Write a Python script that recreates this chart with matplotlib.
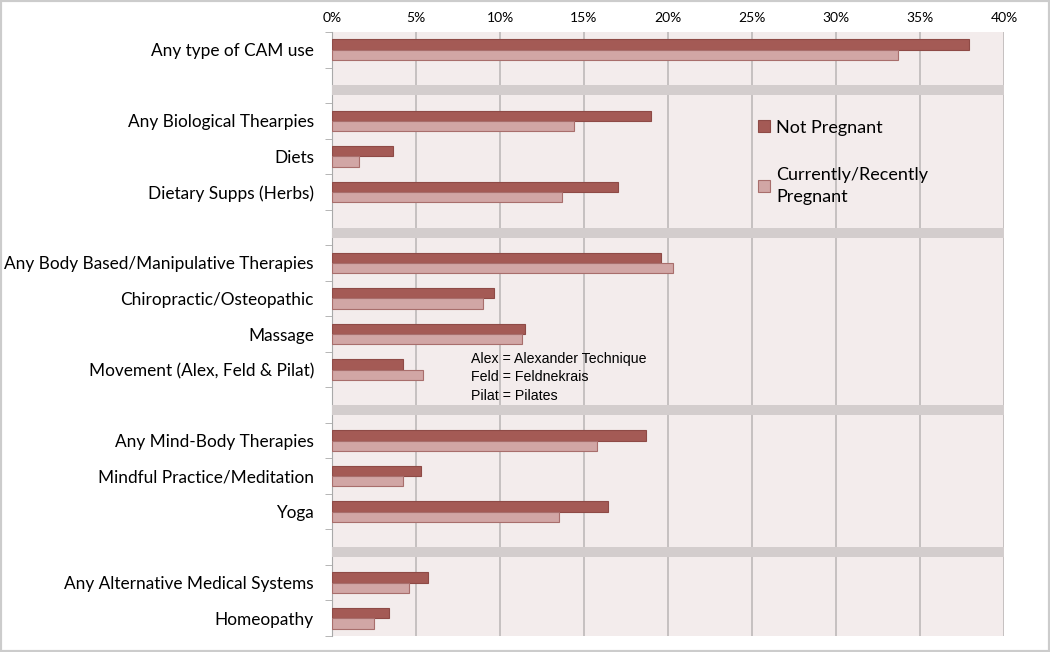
import numpy as np
import matplotlib
matplotlib.use("Agg")
import matplotlib.pyplot as plt
from matplotlib.patches import Rectangle

# rows from top to bottom, None = separator row
categories = ["Any type of CAM use", None,
              "Any Biological Thearpies", "Diets", "Dietary Supps (Herbs)", None,
              "Any Body Based/Manipulative Therapies", "Chiropractic/Osteopathic",
              "Massage", "Movement (Alex, Feld & Pilat)", None,
              "Any Mind-Body Therapies", "Mindful Practice/Meditation", "Yoga", None,
              "Any Alternative Medical Systems", "Homeopathy"]
not_pregnant = [37.9, None, 19.0, 3.65, 17.0, None, 19.6, 9.65, 11.5, 4.2, None,
                18.7, 5.3, 16.4, None, 5.7, 3.4]
pregnant = [33.7, None, 14.4, 1.6, 13.7, None, 20.3, 9.0, 11.3, 5.4, None,
            15.75, 4.2, 13.5, None, 4.6, 2.5]
xticks = [0, 5, 10, 15, 20, 25, 30, 35, 40]
note = "Alex = Alexander Technique\nFeld = Feldnekrais\nPilat = Pilates"

c_np = "#a45a55"
c_cp = "#d1a6a5"
c_band = "#d3cdcd"
bg = "#f3ecec"

fig = plt.figure(figsize=(10.5, 6.52), dpi=100)
ax = fig.add_axes([332/1050, 1-636/652, 672/1050, 604/652])
ax.set_facecolor(bg)

n = len(categories)
yc = np.arange(n) + 0.5
h = 0.29
idx = [i for i in range(n) if categories[i] is not None]
gaps = [i for i in range(n) if categories[i] is None]

ax.barh(yc[idx] - h/2, [not_pregnant[i] for i in idx], height=h, color=c_np,
        edgecolor="#8e4a46", linewidth=0.8, label="Not Pregnant", zorder=3)
ax.barh(yc[idx] + h/2, [pregnant[i] for i in idx], height=h, color=c_cp,
        edgecolor="#a86e6c", linewidth=0.8, label="Currently/Recently\nPregnant", zorder=3)
ax.barh(yc[gaps] + h/2, [40]*len(gaps), height=0.28, color=c_band, linewidth=0, zorder=3)

ax.set_xlim(0, 40)
ax.set_ylim(n, 0)
ax.xaxis.tick_top()
ax.set_xticks(xticks)
ax.set_xticklabels(["%d%%" % t for t in xticks], fontsize=10, family="Lato")
ax.tick_params(axis="x", length=0, pad=6)
ax.grid(axis="x", color="#b9b4b4", linewidth=1.1, zorder=1)

ax.set_yticks(yc[idx])
ax.set_yticklabels([categories[i] for i in idx], fontsize=12.4, family="Lato")
ax.set_yticks(np.arange(n + 1), minor=True)
ax.tick_params(axis="y", which="major", length=0, pad=13)
ax.tick_params(axis="y", which="minor", length=5, color="#a9a9a9", direction="out")

for s in ["top", "right", "bottom"]:
    ax.spines[s].set_visible(False)
ax.spines["left"].set_color("#a9a9a9")

ax.text(8.3, 9.0, note, fontsize=10.2, family="Liberation Sans", va="top",
        ha="left", linespacing=1.42, zorder=4)

leg = ax.legend(loc="upper left", bbox_to_anchor=(0.61, 0.882), frameon=False,
                prop={"family": "Lato", "size": 13}, labelspacing=1.75,
                handlelength=0.65, handleheight=0.65, handletextpad=0.35)
for t in leg.get_texts():
    t.set_linespacing(1.45)

fig.patches.append(Rectangle((0, 0), 1, 1, transform=fig.transFigure, fill=False,
                             edgecolor="#cccccc", linewidth=3))

fig.savefig("out.png", dpi=100)
